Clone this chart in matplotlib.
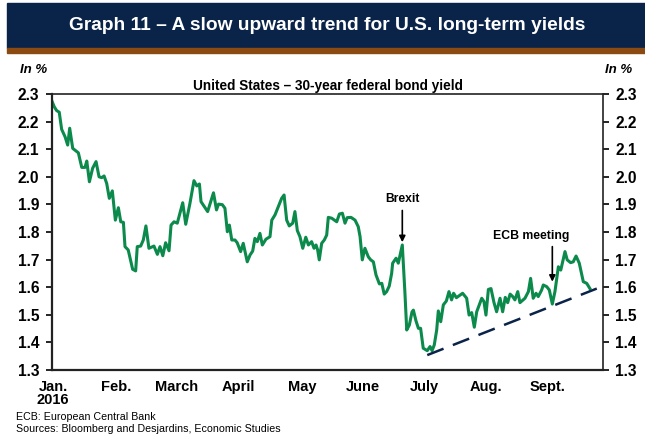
import matplotlib.pyplot as plt
from matplotlib.patches import Rectangle

# ── Data: 30-year U.S. federal bond yield, 2016 (x = days since Jan. 1) ──────
day = [0.1, 1.1, 2.3, 3.6, 4.8, 6.5, 7.8, 8.8, 10.3, 13.1, 14.8, 16.4, 17.3,
       18.6, 20.2, 21.9, 23.4, 24.7, 25.9, 27.2, 28.5, 30.0, 31.5, 33.0, 34.2,
       35.5, 36.3, 37.9, 40.1, 41.6, 42.4, 44.1, 45.4, 46.7, 48.2, 50.7, 52.4,
       53.7, 55.1, 56.5, 58.2, 59.2, 60.7, 62.3, 65.0, 66.5, 68.6, 70.6, 72.0,
       73.3, 74.1, 77.4, 80.3, 81.8, 82.8, 84.7, 86.0, 87.2, 88.2, 89.4, 91.0,
       92.1, 93.8, 95.1, 97.1, 98.5, 99.8, 100.9, 102.1, 103.4, 104.6, 106.4,
       108.4, 109.3, 110.9, 114.2, 115.4, 116.7, 118.0, 119.7, 120.8, 122.0,
       123.3, 124.7, 126.2, 127.5, 129.1, 130.3, 131.3, 132.1, 132.9, 134.1,
       135.4, 136.6, 137.4, 139.1, 141.6, 142.9, 144.4, 145.7, 146.8, 148.7,
       150.7, 152.3, 153.2, 154.3, 155.6, 157.3, 158.5, 159.8, 161.1, 162.8,
       164.0, 165.2, 166.4, 167.7, 168.9, 169.4, 171.1, 172.2, 173.1, 174.2,
       175.5, 176.4, 177.7, 179.0, 179.7, 181.0, 182.2, 183.3, 184.6, 186.6,
       188.0, 189.0, 190.1, 191.3, 192.1, 193.3, 194.6, 196.1, 197.4, 198.7,
       199.7, 201.1, 204.2, 206.2, 207.4, 208.7, 210.0, 211.2, 212.5, 213.7,
       214.8, 215.8, 217.0, 218.3, 219.8, 221.1, 222.8, 224.1, 225.4, 226.6,
       227.8, 229.1, 230.2, 231.6, 232.7, 235.2, 236.9, 238.0, 239.3, 240.7,
       241.8, 243.5, 244.3, 246.0, 247.3, 248.8, 250.1, 251.8, 253.0, 255.1,
       256.2, 257.9, 259.2, 260.6, 262.2, 264.2, 265.9, 267.5]
yld = [2.272, 2.254, 2.240, 2.234, 2.172, 2.145, 2.115, 2.176, 2.103, 2.087,
       2.034, 2.034, 2.057, 1.982, 2.031, 2.055, 2.000, 1.997, 2.003, 1.976,
       1.922, 1.949, 1.843, 1.888, 1.837, 1.835, 1.747, 1.735, 1.665, 1.659,
       1.747, 1.749, 1.771, 1.822, 1.741, 1.749, 1.719, 1.747, 1.714, 1.761,
       1.732, 1.825, 1.837, 1.832, 1.906, 1.828, 1.904, 1.986, 1.967, 1.974,
       1.910, 1.874, 1.942, 1.880, 1.901, 1.899, 1.886, 1.801, 1.825, 1.771,
       1.771, 1.761, 1.729, 1.759, 1.692, 1.717, 1.731, 1.777, 1.765, 1.795,
       1.753, 1.774, 1.783, 1.843, 1.862, 1.922, 1.934, 1.843, 1.822, 1.832,
       1.874, 1.805, 1.783, 1.741, 1.781, 1.753, 1.765, 1.741, 1.753, 1.735,
       1.699, 1.759, 1.771, 1.789, 1.853, 1.850, 1.837, 1.865, 1.868, 1.832,
       1.852, 1.853, 1.843, 1.819, 1.783, 1.699, 1.741, 1.710, 1.699, 1.692,
       1.645, 1.612, 1.614, 1.575, 1.584, 1.604, 1.650, 1.687, 1.705, 1.687,
       1.717, 1.753, 1.580, 1.445, 1.463, 1.510, 1.517, 1.478, 1.451, 1.451,
       1.379, 1.370, 1.385, 1.370, 1.391, 1.445, 1.514, 1.475, 1.536, 1.550,
       1.584, 1.554, 1.578, 1.562, 1.578, 1.560, 1.499, 1.508, 1.455, 1.511,
       1.536, 1.560, 1.548, 1.499, 1.592, 1.595, 1.544, 1.511, 1.560, 1.511,
       1.563, 1.544, 1.575, 1.566, 1.554, 1.584, 1.544, 1.560, 1.584, 1.632,
       1.560, 1.578, 1.566, 1.590, 1.608, 1.602, 1.590, 1.539, 1.584, 1.674,
       1.662, 1.729, 1.699, 1.689, 1.692, 1.713, 1.687, 1.620, 1.614, 1.595]

# upward trend line from the July low
trend_day = [186.6, 270.9]
trend_yld = [1.354, 1.595]

month_days = [0.5, 32, 62, 92.5, 124.5, 154.5, 185, 216, 246.5]
month_labels = ['Jan.\n2016', 'Feb.', 'March', 'April', 'May', 'June',
                'July', 'Aug.', 'Sept.']
yticks = [1.3, 1.4, 1.5, 1.6, 1.7, 1.8, 1.9, 2.0, 2.1, 2.2, 2.3]

brexit_day, brexit_yld = 174.2, 1.753
ecb_day, ecb_yld = 248.8, 1.62

GREEN = '#0b8a4c'
NAVY = '#0a2349'
BROWN = '#8a4a12'

plt.rcParams['font.family'] = ['Liberation Sans', 'DejaVu Sans']

fig = plt.figure(figsize=(6.45, 4.38), dpi=100)

# ── Header band ──────────────────────────────────────────────────────────────
fig.patches.append(Rectangle((7 / 645, 1 - 48 / 438), 1, 45 / 438,
                             transform=fig.transFigure, color=NAVY, zorder=0))
fig.patches.append(Rectangle((7 / 645, 1 - 53 / 438), 1, 5 / 438,
                             transform=fig.transFigure, color=BROWN, zorder=0))
fig.text(0.508, 1 - 26 / 438,
         'Graph 11 – A slow upward trend for U.S. long-term yields',
         color='white', fontsize=13.8, fontweight='bold',
         ha='center', va='center')

fig.text(20 / 645, 1 - 70 / 438, 'In %', fontsize=9.5, fontweight='bold',
         style='italic', ha='left', va='center')
fig.text(632 / 645, 1 - 70 / 438, 'In %', fontsize=9.5, fontweight='bold',
         style='italic', ha='right', va='center')

# ── Main axes ────────────────────────────────────────────────────────────────
ax = fig.add_axes([52 / 645, 68 / 438, 551 / 645, 276 / 438])
ax.plot(day, yld, color=GREEN, linewidth=2.2, solid_joinstyle='round')
ax.plot(trend_day, trend_yld, color=NAVY, linewidth=1.8,
        linestyle=(0, (7, 4)))

ax.set_xlim(0, 274)
ax.set_ylim(1.3, 2.3)
ax.set_yticks(yticks)
ax.set_yticklabels([f'{v:.1f}' for v in yticks])
ax.set_xticks(month_days)
ax.set_xticklabels(month_labels, linespacing=0.95)

ax.tick_params(axis='y', which='both', left=True, right=True,
               labelleft=True, labelright=True, direction='out',
               length=4, width=1.2, labelsize=11.2, pad=5)
ax.tick_params(axis='x', length=0, labelsize=10.5, pad=7)
for lbl in ax.get_xticklabels() + ax.get_yticklabels():
    lbl.set_fontweight('bold')
for lbl in ax.get_xticklabels():
    lbl.set_va('top')

for side in ['left', 'right', 'top', 'bottom']:
    ax.spines[side].set_color('#222222')
    ax.spines[side].set_linewidth(1.2)
ax.spines['left'].set_linewidth(1.6)
ax.spines['bottom'].set_linewidth(1.6)

ax.set_title('United States – 30-year federal bond yield', fontsize=9.8,
             fontweight='bold', pad=3)

# ── Annotations ──────────────────────────────────────────────────────────────
ax.annotate('', xy=(brexit_day, brexit_yld + 0.01),
            xytext=(brexit_day, brexit_yld + 0.125),
            arrowprops=dict(arrowstyle='-|>', color='black', lw=1.2,
                            mutation_scale=9, shrinkA=0, shrinkB=0))
ax.text(brexit_day, brexit_yld + 0.165, 'Brexit', fontsize=8.7,
        fontweight='bold', ha='center', va='center')

ax.annotate('', xy=(ecb_day, ecb_yld),
            xytext=(ecb_day, ecb_yld + 0.127),
            arrowprops=dict(arrowstyle='-|>', color='black', lw=1.2,
                            mutation_scale=9, shrinkA=0, shrinkB=0))
ax.text(ecb_day - 10.5, ecb_yld + 0.165, 'ECB meeting', fontsize=8.8,
        fontweight='bold', ha='center', va='center')

# ── Footnotes ────────────────────────────────────────────────────────────────
fig.text(16 / 645, 1 - 417 / 438, 'ECB: European Central Bank',
         fontsize=7.7, ha='left', va='center')
fig.text(16 / 645, 1 - 429 / 438,
         'Sources: Bloomberg and Desjardins, Economic Studies',
         fontsize=7.7, ha='left', va='center')

fig.savefig('out.png', dpi=100)
